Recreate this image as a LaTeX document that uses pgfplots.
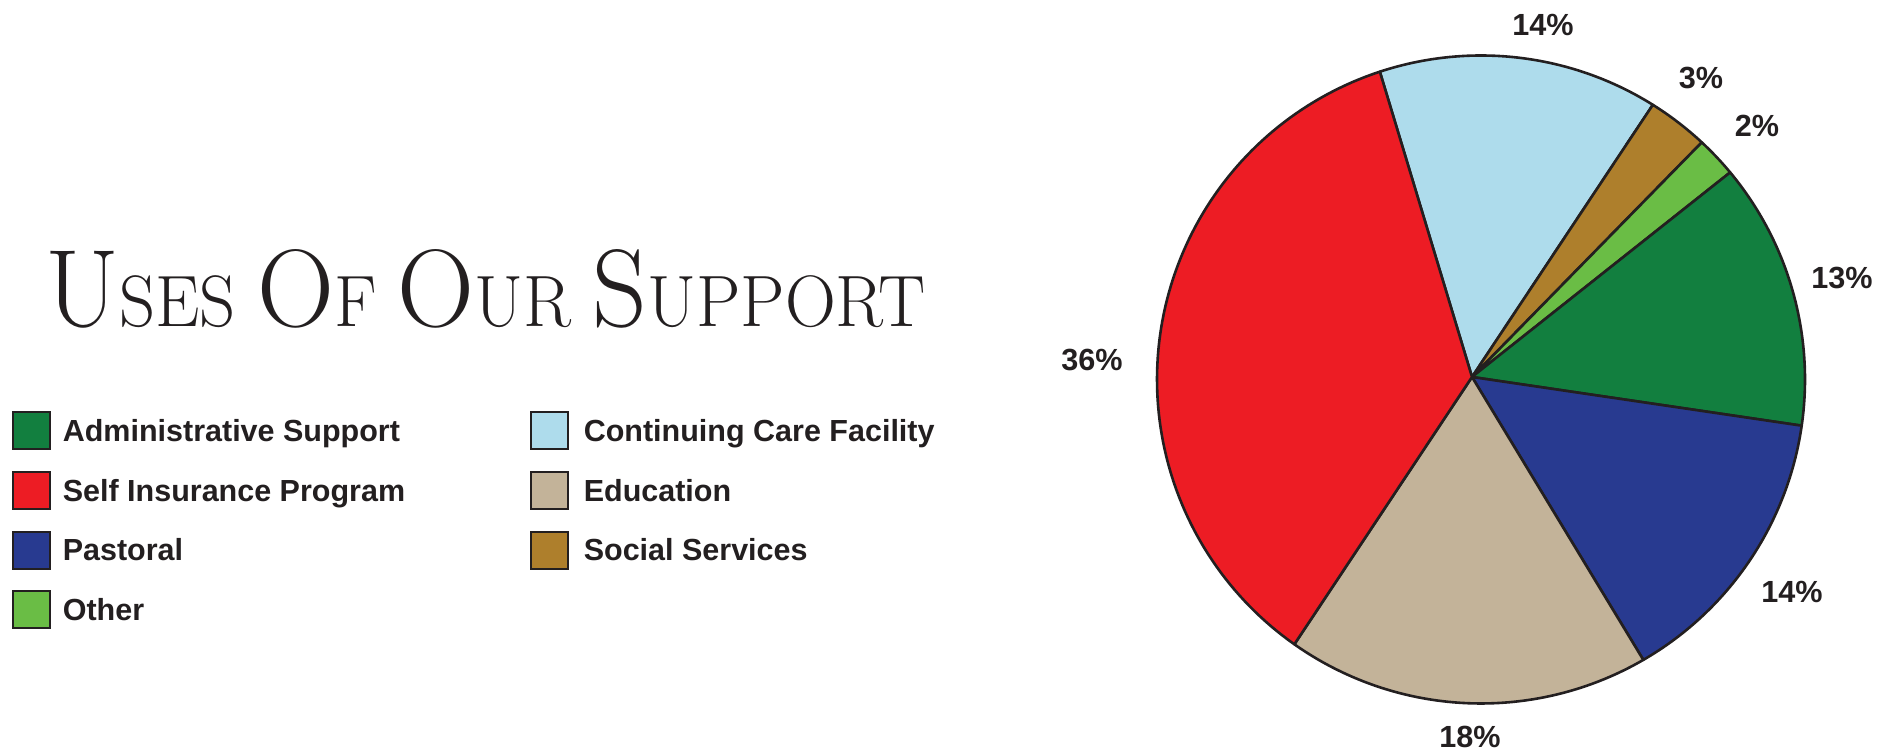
\documentclass[border=0pt]{standalone}
\usepackage{fontspec}
\usepackage{graphicx}
\usepackage{pgfplots}
\usepackage{pgfplotstable}
\pgfplotsset{compat=1.18}
\newfontfamily\lab{Liberation Sans}
\definecolor{adm}{HTML}{127F3F}
\definecolor{selfc}{HTML}{ED1C24}
\definecolor{past}{HTML}{283A90}
\definecolor{oth}{HTML}{6ABD45}
\definecolor{cont}{HTML}{AEDCEC}
\definecolor{edu}{HTML}{C3B399}
\definecolor{soc}{HTML}{AE7F2C}
\definecolor{outl}{HTML}{231F20}
\definecolor{txt}{HTML}{231F20}
\pgfplotstableread{
name pct
Continuing 14
Social 3
Other 2
Admin 13
Pastoral 14
Education 18
SelfInsurance 36
}\piedata
\newcommand\getpct[1]{\pgfplotstablegetelem{#1}{pct}\of\piedata}
\pgfmathsetmacro\aA{106.8}
\getpct{0}\pgfmathsetmacro\aB{\aA-3.6*\pgfplotsretval}
\getpct{1}\pgfmathsetmacro\aC{\aB-3.6*\pgfplotsretval}
\getpct{2}\pgfmathsetmacro\aD{\aC-3.6*\pgfplotsretval}
\getpct{3}\pgfmathsetmacro\aE{\aD-3.6*\pgfplotsretval}
\getpct{4}\pgfmathsetmacro\aF{\aE-3.6*\pgfplotsretval}
\getpct{5}\pgfmathsetmacro\aG{\aF-3.6*\pgfplotsretval}
\getpct{6}\pgfmathsetmacro\aH{\aG-3.6*\pgfplotsretval}
% vertex of the slices and outline circle (centre 1481,373.5, radius 324)
\def\vx{1472}\def\vy{376}
\newcommand\tb{\fontsize{56}{60}\selectfont}
\newcommand\ts{\fontsize{37}{40}\selectfont}
\begin{document}
\begin{tikzpicture}
\begin{axis}[
  name=ax,
  scale only axis, width=948.5pt, height=376.5pt,
  xmin=0, xmax=1897, ymin=0, ymax=753,
  hide axis, clip=false,
  declare function={ca(\t)=0.027778*cos(\t)-0.007716*sin(\t);
                    rr(\t)=324*(ca(\t)+sqrt(1-0.000831+ca(\t)^2));},
  slice/.style={draw=outl, line width=1.3pt, line join=round, samples=100, forget plot},
  legend columns=2,
  legend style={at={(axis cs:12,342)}, anchor=north west, draw=none, fill=none,
    inner sep=0pt, font=\lab\bfseries\fontsize{15.25}{18}\selectfont, text=txt,
    cells={anchor=base west}, nodes={inner sep=0pt},
    column sep=5.7pt, row sep={29.8pt,between origins}},
  legend image code/.code={\draw[#1,line width=1pt] (0pt,-3.85pt) rectangle (18.5pt,14.65pt);},
]
\addplot[draw=none, forget plot] coordinates {(0,0) (1897,753)};
\addplot[slice, fill=cont, domain=\aB:\aA] ({\vx+rr(x)*cos(x)},{\vy+rr(x)*sin(x)}) -- (axis cs:\vx,\vy) -- cycle;
\addplot[slice, fill=soc, domain=\aC:\aB] ({\vx+rr(x)*cos(x)},{\vy+rr(x)*sin(x)}) -- (axis cs:\vx,\vy) -- cycle;
\addplot[slice, fill=oth, domain=\aD:\aC] ({\vx+rr(x)*cos(x)},{\vy+rr(x)*sin(x)}) -- (axis cs:\vx,\vy) -- cycle;
\addplot[slice, fill=adm, domain=\aE:\aD] ({\vx+rr(x)*cos(x)},{\vy+rr(x)*sin(x)}) -- (axis cs:\vx,\vy) -- cycle;
\addplot[slice, fill=past, domain=\aF:\aE] ({\vx+rr(x)*cos(x)},{\vy+rr(x)*sin(x)}) -- (axis cs:\vx,\vy) -- cycle;
\addplot[slice, fill=edu, domain=\aG:\aF] ({\vx+rr(x)*cos(x)},{\vy+rr(x)*sin(x)}) -- (axis cs:\vx,\vy) -- cycle;
\addplot[slice, fill=selfc, domain=\aH:\aG] ({\vx+rr(x)*cos(x)},{\vy+rr(x)*sin(x)}) -- (axis cs:\vx,\vy) -- cycle;

\addlegendimage{fill=adm, draw=outl}
\addlegendentry{\makebox[227.8pt][l]{Administrative Support}}
\addlegendimage{fill=cont, draw=outl}
\addlegendentry{\hspace{1.8pt}Continuing Care Facility}
\addlegendimage{fill=selfc, draw=outl}
\addlegendentry{\makebox[227.8pt][l]{Self Insurance Program}}
\addlegendimage{fill=edu, draw=outl}
\addlegendentry{\hspace{1.8pt}Education}
\addlegendimage{fill=past, draw=outl}
\addlegendentry{\makebox[227.8pt][l]{Pastoral}}
\addlegendimage{fill=soc, draw=outl}
\addlegendentry{\hspace{1.8pt}Social Services}
\addlegendimage{fill=oth, draw=outl}
\addlegendentry{\makebox[227.8pt][l]{Other}}

\begin{scope}[every node/.style={font=\lab\bfseries\fontsize{15.3}{18}\selectfont, text=txt, inner sep=0pt, anchor=center}]
\node at (axis cs:1543,728) {14\%};
\node at (axis cs:1701,675) {3\%};
\node at (axis cs:1757,627) {2\%};
\node at (axis cs:1842,475) {13\%};
\node at (axis cs:1792,161) {14\%};
\node at (axis cs:1470,16) {18\%};
\node at (axis cs:1092,393) {36\%};
\end{scope}
\node[anchor=base west, inner sep=0pt, text=txt] at (axis cs:45,426)
  {\resizebox{440pt}{38.5pt}{\tb U\ts SES \tb O\ts F \tb O\ts UR \tb S\ts UPPORT}};
\end{axis}
\pgfresetboundingbox
\path (ax.south west) rectangle (ax.north east);
\end{tikzpicture}
\end{document}
